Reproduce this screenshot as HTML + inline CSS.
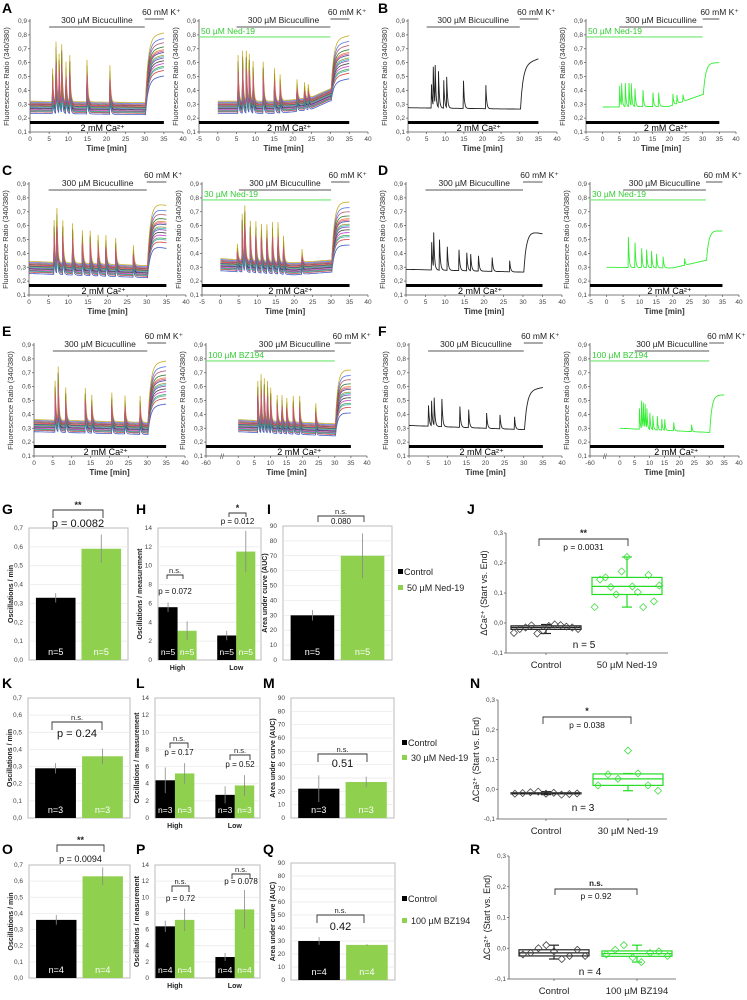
<!DOCTYPE html>
<html><head><meta charset="utf-8"><style>
html,body{margin:0;padding:0;background:#fff;}
svg{display:block;font-family:"Liberation Sans",Arial,sans-serif;}
</style></head><body>
<svg id="fig" width="747" height="1000" viewBox="0 0 747 1000" xmlns="http://www.w3.org/2000/svg"></svg>
<script>
// ---------- DATA ----------
const multiOffsets=[-0.045,-0.035,-0.025,-0.02,-0.012,-0.006,0,0.004,0.009,0.015,0.021,0.028,0.035,0.042,-0.03,0.018];
const multiScales=[0.5,0.85,0.65,1.0,0.6,0.75,0.9,0.45,0.8,0.7,0.88,0.62,0.55,0.95,0.75,0.68];
const multiPlateau=[-0.14,-0.1,-0.07,-0.05,-0.03,-0.01,0,0.01,0.03,0.05,0.07,0.1,0.13,0.17,-0.08,0.04];
const traceColors=["#1f3fbf","#d02020","#20a040","#c020c0","#202020","#7030a0","#20b0c0","#8a8a20","#203080","#e07020","#106010","#a04060","#4060e0","#c0a000","#40a0a0","#e04080"];

const aLeftSpikeT=[5.8,6.7,7.5,8.2,9.3,10.3,14.8,20.8];
const aLeftSpikeH=[0.25,0.45,0.35,0.42,0.3,0.35,0.32,0.28];
const aRightSpikeT=[5.3,6.5,7.5,8.3,9.3,12,15,16.5,21,23,24];
const aRightSpikeH=[0.35,0.38,0.38,0.35,0.3,0.3,0.25,0.2,0.15,0.12,0.1];
const bLeftSpikeT=[6.2,6.7,7.2,8.1,9.5,10.3,14.8,20.8];
const bLeftSpikeH=[0.17,0.28,0.28,0.26,0.2,0.22,0.2,0.17];
const bRightSpikeT=[5,5.6,6.7,7.8,8.5,9.6,12,15,16.7,21,22.2,24];
const bRightSpikeH=[0.15,0.16,0.17,0.17,0.16,0.13,0.12,0.1,0.1,0.08,0.06,0.05];
const cLeftSpikeT=[6.3,7,8.5,11,13.5,15.5,17.5,19.5,22,26.5];
const cLeftSpikeH=[0.32,0.4,0.32,0.3,0.25,0.25,0.22,0.22,0.2,0.15];
const cRightSpikeT=[4.5,5.8,6.5,8,9.5,11,12.5,14,15.5,17,22];
const cRightSpikeH=[0.12,0.35,0.4,0.3,0.3,0.28,0.28,0.3,0.3,0.2,0.1];
const dLeftSpikeT=[6.5,7,8.5,10.5,13.5,15.5,16.5,18.5,22,26.5];
const dLeftSpikeH=[0.2,0.25,0.22,0.17,0.15,0.13,0.12,0.11,0.1,0.08];
const dRightSpikeT=[6.5,8.5,10.5,12,13.5,15,17,23.5];
const dRightSpikeH=[0.22,0.18,0.14,0.13,0.12,0.1,0.08,0.05];
const eLeftSpikeT=[5.5,6.3,8.3,13.5,15.2,20.5,24,28];
const eLeftSpikeH=[0.3,0.4,0.25,0.25,0.2,0.22,0.2,0.2];
const eRightSpikeT=[6,7,8,9,10,12,13.5,15,17,19,24];
const eRightSpikeH=[0.3,0.35,0.32,0.3,0.25,0.2,0.2,0.18,0.2,0.2,0.15];
const fLeftSpikeT=[5,5.8,6.5,8.5,13.2,15.5,20.2,23.7,27.5];
const fLeftSpikeH=[0.15,0.18,0.2,0.2,0.15,0.13,0.11,0.1,0.09];
const fRightSpikeT=[6.5,7.2,7.8,8.4,9,10,11,12.5,14,15,18,24];
const fRightSpikeH=[0.15,0.2,0.18,0.17,0.14,0.12,0.1,0.1,0.08,0.08,0.06,0.05];

// bar chart data
const barCats=["Control","Ned"];
const gVals=[0.33,0.59], gErr=[0.025,0.075];
const hHigh=[5.6,3.1], hHighErr=[0.5,1.0], hLow=[2.6,11.5], hLowErr=[0.5,2.2];
const iVals=[30,70], iErr=[3.5,15];
const kVals=[0.29,0.36], kErr=[0.03,0.045];
const lHigh=[4.4,5.2], lHighErr=[1.5,1.2], lLow=[2.7,3.8], lLowErr=[1.0,1.2];
const mVals=[22,27], mErr=[10,4];
const oVals=[0.36,0.63], oErr=[0.03,0.055];
const pHigh=[6.4,7.2], pHighErr=[0.7,1.4], pLow=[2.6,8.5], pLowErr=[0.5,2.4];
const qVals=[30,27], qErr=[3,0.6];

// boxplot data
const jCtrl=[-0.033,-0.02,-0.015,-0.008,-0.035,-0.025,-0.01,-0.005,-0.007,-0.012,-0.015,-0.02];
const jNed=[0.053,0.145,0.152,0.12,0.095,0.172,0.22,0.122,0.103,0.053,0.16,0.072,0.125];
const nCtrl=[-0.015,-0.013,-0.01,-0.008,-0.015,-0.012,-0.018,-0.016,-0.014];
const nNed=[0.013,0.05,0.035,0.13,0.053,0.013,-0.005];
const rCtrl=[-0.02,-0.015,0.0,0.01,-0.01,-0.035,-0.025,-0.005,-0.025];
const rBz=[-0.02,-0.005,0.01,-0.03,-0.045,-0.015,-0.01,-0.025];

// ---------- HELPERS ----------
const NS="http://www.w3.org/2000/svg";
const svg=document.getElementById('fig');
function mk(tag,attrs,name,parent){
  const e=document.createElementNS(NS,tag);
  for(const k in attrs) e.setAttribute(k,attrs[k]);
  
  
  (parent||svg).appendChild(e);
  return e;
}
function txt(x,y,s,size,extra,name,parent){
  const a=Object.assign({x:x,y:y,'font-size':size,fill:'#222'},extra||{});
  const t=mk('text',a,name,parent);
  t.textContent=s;
  return t;
}
function line(x1,y1,x2,y2,stroke,w,name,parent){
  return mk('line',{x1:x1,y1:y1,x2:x2,y2:y2,stroke:stroke,'stroke-width':w},name,parent);
}
function fmt(v,d){return v.toFixed(d).replace('.',',');}
function interp(ts,vs,t){
  if(t<=ts[0])return vs[0];
  for(let i=1;i<ts.length;i++){ if(t<=ts[i]){const f=(t-ts[i-1])/(ts[i]-ts[i-1]);return vs[i-1]+f*(vs[i]-vs[i-1]);} }
  return vs[vs.length-1];
}
function letter(x,y,s){ txt(x,y,s,14,{'font-weight':'bold',fill:'#000'},'panel-label-'+s.toLowerCase()); }

// ---------- TRACE PANELS ----------
function traceVal(p,t,off,sc,pl){
  const b=interp(p.baseT,p.baseV,Math.min(t,30))+off;
  if(t<30.2){
    let v=b;
    for(let i=0;i<p.st.length;i++){
      const d=t-p.st[i];
      if(d>=0 && d<0.1) v+=p.sh[i]*sc*(d/0.1);
      else if(d>=0.1) v+=p.sh[i]*sc*Math.exp(-(d-0.1)/0.22);
    }
    return v;
  }
  const P=p.plateau+pl;
  return b+(P-b)*(1-Math.exp(-(t-30.2)/0.7))+p.plSlope*(t-30.2);
}
function drawTrace(p){
  const g=mk('g',{},p.name);
  const yT=p.rowY+21, yB=p.rowY+132;
  const xm=t=>p.x0+(t-p.xr[0])/(p.xr[1]-p.xr[0])*(p.x1-p.x0);
  const ym=v=>yT+(0.9-v)/0.8*(yB-yT);
  line(p.x0,yT-2,p.x0,yB,'#555',0.8,'y-axis',g);
  line(p.x0,yB,p.x1,yB,'#555',0.8,'x-axis',g);
  for(let k=1;k<=9;k++){
    const v=k/10;
    line(p.x0-2,ym(v),p.x0,ym(v),'#555',0.7,'y-tick',g);
    txt(p.x0-3,ym(v)+2,fmt(v,1),6.5,{'text-anchor':'end',fill:'#444'},'y-tick-label',g);
  }
  p.xt.forEach((t,i)=>{
    line(xm(t),yB,xm(t),yB+2,'#555',0.7,'x-tick',g);
    txt(xm(t),yB+9,p.xl[i],6.5,{'text-anchor':'middle',fill:'#444'},'x-tick-label',g);
  });
  if(p.brk){ txt(xm(-5),yB+3,'//',7,{'text-anchor':'middle',fill:'#444'},'axis-break',g); }
  txt((p.x0+p.x1)/2,p.rowY+151,'Time [min]',8,{'text-anchor':'middle',fill:'#333','font-weight':'bold'},'x-axis-title',g);
  const yc=(yT+yB)/2;
  txt(p.x0-21,yc,'Fluorescence Ratio (340/380)',7.5,{'text-anchor':'middle',fill:'#333',transform:'rotate(-90 '+(p.x0-21)+' '+yc+')'},'y-axis-title',g);
  const t0=0,t1=35,dt=0.05;
  const n=p.kind==='multi'?multiOffsets.length:1;
  for(let k=0;k<n;k++){
    const off=p.kind==='multi'?multiOffsets[k]:0;
    const sc=p.kind==='multi'?multiScales[k]:1;
    const pl=p.kind==='multi'?multiPlateau[k]:0;
    let d='';
    for(let t=t0;t<=t1+1e-9;t+=dt){
      let v=traceVal(p,t,off,sc,pl); v=Math.max(0.12,Math.min(0.86,v));
      d+=(d?'L':'M')+xm(t).toFixed(1)+' '+ym(v).toFixed(1);
    }
    const col=p.kind==='multi'?traceColors[k]:(p.kind==='green'?'#33ee33':'#222');
    mk('path',{d:d,fill:'none',stroke:col,'stroke-width':p.kind==='multi'?0.8:0.9,'stroke-opacity':p.kind==='multi'?0.85:1},'trace',g);
  }
  line(xm(5),p.rowY+27,xm(30),p.rowY+27,'#777',1.2,'bicuculline-bar',g);
  txt(xm(17.5),p.rowY+23,'300 µM Bicuculline',8.5,{'text-anchor':'middle',fill:'#222'},'bicuculline-label',g);
  line(xm(30),p.rowY+19,xm(35),p.rowY+19,'#777',1.2,'k-bar',g);
  txt(xm(29.3),p.rowY+15,'60 mM K⁺',8.5,{fill:'#222'},'k-label',g);
  if(p.drug){
    line(p.x0,ym(0.785),xm(30),ym(0.785),'#6ee66e',1.2,'drug-bar',g);
    txt(p.x0+2,ym(0.785)-3,p.drug,8.5,{fill:'#33cc33'},'drug-label',g);
  }
  mk('rect',{x:p.x0,y:p.rowY+121,width:xm(35)-p.x0,height:3,fill:'#000'},'calcium-bar',g);
  txt(xm(19),p.rowY+131,'2 mM Ca²⁺',9,{'text-anchor':'middle',fill:'#000'},'calcium-label',g);
}
const xt40=[0,5,10,15,20,25,30,35,40], xl40=xt40.map(String);
const xt45=[-5,0,5,10,15,20,25,30,35,40], xl45=xt45.map(String);
const xtB=[-10,0,5,10,15,20,25,30,35,40], xlB=["-60","0","5","10","15","20","25","30","35","40"];
const panels=[
 {name:'panel-a-control',rowY:0,x0:30,x1:183,xr:[0,40],xt:xt40,xl:xl40,kind:'multi',st:aLeftSpikeT,sh:aLeftSpikeH,baseT:[0,30],baseV:[0.28,0.27],plateau:0.62,plSlope:0.005},
 {name:'panel-a-ned19',rowY:0,x0:199,x1:368,xr:[-5,40],xt:xt45,xl:xl45,kind:'multi',drug:'50 µM Ned-19',st:aRightSpikeT,sh:aRightSpikeH,baseT:[0,15,20,25,30],baseV:[0.28,0.28,0.29,0.31,0.37],plateau:0.6,plSlope:0.005},
 {name:'panel-b-control',rowY:0,x0:408,x1:557,xr:[0,40],xt:xt40,xl:xl40,kind:'black',st:bLeftSpikeT,sh:bLeftSpikeH,baseT:[0,30],baseV:[0.275,0.265],plateau:0.58,plSlope:0.01},
 {name:'panel-b-ned19',rowY:0,x0:586,x1:736,xr:[-5,40],xt:xt45,xl:xl45,kind:'green',drug:'50 µM Ned-19',st:bRightSpikeT,sh:bRightSpikeH,baseT:[0,20,30],baseV:[0.28,0.285,0.37],plateau:0.6,plSlope:0},
 {name:'panel-c-control',rowY:163,x0:29,x1:186,xr:[0,40],xt:xt40,xl:xl40,kind:'multi',st:cLeftSpikeT,sh:cLeftSpikeH,baseT:[0,30],baseV:[0.3,0.27],plateau:0.6,plSlope:-0.005},
 {name:'panel-c-ned19',rowY:163,x0:202,x1:368,xr:[-5,40],xt:xt45,xl:xl45,kind:'multi',drug:'30 µM Ned-19',st:cRightSpikeT,sh:cRightSpikeH,baseT:[0,20,30],baseV:[0.32,0.29,0.31],plateau:0.6,plSlope:0},
 {name:'panel-d-control',rowY:163,x0:406,x1:562,xr:[0,40],xt:xt40,xl:xl40,kind:'black',st:dLeftSpikeT,sh:dLeftSpikeH,baseT:[0,30],baseV:[0.285,0.265],plateau:0.57,plSlope:-0.006},
 {name:'panel-d-ned19',rowY:163,x0:590,x1:739,xr:[-5,40],xt:xt45,xl:xl45,kind:'green',drug:'30 µM Ned-19',st:dRightSpikeT,sh:dRightSpikeH,baseT:[0,20,30],baseV:[0.3,0.295,0.35],plateau:0.57,plSlope:-0.002},
 {name:'panel-e-control',rowY:324,x0:34,x1:185,xr:[0,40],xt:xt40,xl:xl40,kind:'multi',st:eLeftSpikeT,sh:eLeftSpikeH,baseT:[0,30],baseV:[0.32,0.3],plateau:0.6,plSlope:0.003},
 {name:'panel-e-bz194',rowY:324,x0:206,x1:367,xr:[-10,40],xt:xtB,xl:xlB,brk:true,kind:'multi',drug:'100 µM BZ194',st:eRightSpikeT,sh:eRightSpikeH,baseT:[0,30],baseV:[0.32,0.29],plateau:0.55,plSlope:0},
 {name:'panel-f-control',rowY:324,x0:409,x1:562,xr:[0,40],xt:xt40,xl:xl40,kind:'black',st:fLeftSpikeT,sh:fLeftSpikeH,baseT:[0,30],baseV:[0.32,0.29],plateau:0.57,plSlope:0.005},
 {name:'panel-f-bz194',rowY:324,x0:590,x1:739,xr:[-10,40],xt:xtB,xl:xlB,brk:true,kind:'green',drug:'100 µM BZ194',st:fRightSpikeT,sh:fRightSpikeH,baseT:[0,30],baseV:[0.3,0.27],plateau:0.54,plSlope:0}
];
panels.forEach(drawTrace);
letter(2,13,'A');letter(378,13,'B');letter(2,175,'C');letter(378,175,'D');letter(2,336,'E');letter(378,336,'F');

// ---------- BAR PANELS ----------
function drawBar(p){
  const g=mk('g',{},p.name);
  const w=p.x1-p.x0;
  const ym=v=>p.yB-(v/p.ymax)*(p.yB-p.yT);
  mk('rect',{x:p.x0,y:p.yT,width:w,height:p.yB-p.yT,fill:'#fff',stroke:'#bbb','stroke-width':1},'plot-frame',g);
  const nt=Math.round(p.ymax/p.step);
  for(let k=0;k<=nt;k++){
    const v=k*p.step;
    if(k>0&&k<nt) line(p.x0,ym(v),p.x1,ym(v),'#e8e8e8',0.7,'gridline',g);
    txt(p.x0-6,ym(v)+2,p.dec?fmt(v,p.dec):String(v),6.5,{'text-anchor':'end',fill:'#444'},'y-tick-label',g);
  }
  const yc=(p.yT+p.yB)/2;
  txt(p.x0-16,yc,p.ytitle,7,{'text-anchor':'middle','font-weight':'bold',fill:'#222',transform:'rotate(-90 '+(p.x0-16)+' '+yc+')'},'y-axis-title',g);
  const bars=[];
  if(p.grouped){
    const bw=0.185*w;
    [[p.high,p.highErr,0.19,'High'],[p.low,p.lowErr,0.76,'Low']].forEach(gr=>{
      const c=p.x0+gr[2]*w;
      bars.push([c-bw,bw,gr[0][0],gr[1][0],'#000']);
      bars.push([c,bw,gr[0][1],gr[1][1],'#8fd14f']);
      txt(c,p.yB+10,gr[3],7,{'text-anchor':'middle','font-weight':'bold',fill:'#222'},'group-label',g);
    });
  } else {
    const bw=0.4*w;
    [0.27,0.73].forEach((f,i)=>bars.push([p.x0+f*w-bw/2,bw,p.vals[i],p.err[i],i?'#8fd14f':'#000']));
  }
  bars.forEach(b=>{
    mk('rect',{x:b[0],y:ym(b[2]),width:b[1],height:p.yB-ym(b[2]),fill:b[4]},'bar',g);
    const cx=b[0]+b[1]/2;
    line(cx,ym(b[2]+b[3]),cx,ym(Math.max(0,b[2]-b[3])),'#888',0.8,'error-bar',g);
    txt(cx,p.yB-5,p.nlab,p.grouped?8.5:9,{'text-anchor':'middle',fill:'#fff'},'n-label',g);
  });
  p.br.forEach(b=>{
    mk('path',{d:'M'+b[0]+' '+b[3]+'V'+b[2]+'H'+b[1]+'V'+b[3],fill:'none',stroke:'#333','stroke-width':0.9},'significance-bracket',g);
    txt((b[0]+b[1])/2,b[2]-2,b[4],b[4]==='n.s.'?7.5:9,{'text-anchor':'middle',fill:'#222','font-weight':b[4]==='n.s.'?'normal':'bold'},'significance-mark',g);
    txt((b[0]+b[1])/2,b[5],b[6],b[7],{'text-anchor':'middle',fill:'#111'},'p-value',g);
  });
}
function legend(x,y1,y2,label2){
  mk('rect',{x:x,y:y1-6,width:5,height:5,fill:'#000'},'legend-swatch-control');
  txt(x+6,y1,'Control',9,{fill:'#222'},'legend-entry-control');
  mk('rect',{x:x,y:y2-6,width:5,height:5,fill:'#8fd14f'},'legend-swatch-treatment');
  txt(x+9,y2,label2,9,{fill:'#222'},'legend-entry-treatment');
}
drawBar({name:'panel-g',x0:29,x1:128,yT:528,yB:660,ymax:0.7,step:0.1,dec:1,ytitle:'Oscillations / min',vals:gVals,err:gErr,nlab:'n=5',br:[[53,103,510,518,'**',527,'p = 0.0082',11]]});
drawBar({name:'panel-h',x0:158,x1:261,yT:528,yB:660,ymax:14,step:2,ytitle:'Oscillations / measurement',grouped:true,high:hHigh,highErr:hHighErr,low:hLow,lowErr:hLowErr,nlab:'n=5',br:[[167,183,575,579,'n.s.',594,'p = 0.072',8],[229,246,513,517,'*',524,'p = 0.012',8]]});
drawBar({name:'panel-i',x0:283,x1:392,yT:526,yB:660,ymax:90,step:10,ytitle:'Area under curve (AUC)',vals:iVals,err:iErr,nlab:'n=5',br:[[318,364,516,522,'n.s.',524,'0.080',8]]});
legend(398,575,591,'50 µM Ned-19');
drawBar({name:'panel-k',x0:28,x1:130,yT:698,yB:818,ymax:0.7,step:0.1,dec:1,ytitle:'Oscillations / min',vals:kVals,err:kErr,nlab:'n=3',br:[[52,102,722,730,'n.s.',737,'p = 0.24',11]]});
drawBar({name:'panel-l',x0:155,x1:260,yT:698,yB:818,ymax:14,step:2,ytitle:'Oscillations / measurement',grouped:true,high:lHigh,highErr:lHighErr,low:lLow,lowErr:lLowErr,nlab:'n=3',br:[[170,188,743,748,'n.s.',755,'p = 0.17',8],[230,250,755,760,'n.s.',767,'p = 0.52',8]]});
drawBar({name:'panel-m',x0:291,x1:394,yT:698,yB:818,ymax:90,step:10,ytitle:'Area under curve (AUC)',vals:mVals,err:mErr,nlab:'n=3',br:[[318,367,754,762,'n.s.',767,'0.51',11]]});
legend(402,746,761,'30 µM Ned-19');
drawBar({name:'panel-o',x0:29,x1:130,yT:865,yB:978,ymax:0.7,step:0.1,dec:1,ytitle:'Oscillations / min',vals:oVals,err:oErr,nlab:'n=4',br:[[57,104,845,852,'**',862,'p = 0.0094',9]]});
drawBar({name:'panel-p',x0:155,x1:260,yT:865,yB:978,ymax:14,step:2,ytitle:'Oscillations / measurement',grouped:true,high:pHigh,highErr:pHighErr,low:pLow,lowErr:pLowErr,nlab:'n=4',br:[[172,189,886,892,'n.s.',901,'p = 0.72',8],[232,250,874,879,'n.s.',884,'p = 0.078',8]]});
drawBar({name:'panel-q',x0:291,x1:395,yT:863,yB:980,ymax:90,step:10,ytitle:'Area under curve (AUC)',vals:qVals,err:qErr,nlab:'n=4',br:[[317,364,915,923,'n.s.',930,'0.42',11]]});
legend(402,902,924,'100 µM BZ194');

// ---------- BOX PANELS ----------
function quant(a,q){const s=[...a].sort((x,y)=>x-y);const i=(s.length-1)*q;const lo=Math.floor(i),hi=Math.ceil(i);return s[lo]+(s[hi]-s[lo])*(i-lo);}
function drawBox(p){
  const g=mk('g',{},p.name);
  const ym=v=>p.yB-(v+0.1)/0.4*(p.yB-p.yT);
  line(p.x0,p.yT,p.x0,p.yB,'#555',0.8,'y-axis',g);
  line(p.x0,p.yB,p.x1,p.yB,'#555',0.8,'x-axis',g);
  [-0.1,0,0.1,0.2,0.3].forEach(v=>{
    line(p.x0-2,ym(v),p.x0,ym(v),'#555',0.7,'y-tick',g);
    txt(p.x0-3,ym(v)+2,fmt(v,1),6.5,{'text-anchor':'end',fill:'#444'},'y-tick-label',g);
  });
  const yc=(p.yT+p.yB)/2, tx=p.x0-19;
  txt(tx,yc,'ΔCa²⁺ (Start vs. End)',9,{'text-anchor':'middle',fill:'#222',transform:'rotate(-90 '+tx+' '+yc+')'},'y-axis-title',g);
  [[p.c1,p.d1,'#222',p.l1],[p.c2,p.d2,'#22dd22',p.l2]].forEach(s=>{
    const c=s[0],d=s[1],col=s[2],bw=70;
    line(c,p.yB,c,p.yB+2,'#555',0.7,'x-tick',g);
    txt(c,p.yB+15,s[3],9.5,{'text-anchor':'middle',fill:'#222'},'x-tick-label',g);
    const q1=quant(d,0.25),q3=quant(d,0.75),md=quant(d,0.5),iqr=q3-q1;
    const inl=d.filter(v=>v>=q1-1.5*iqr-1e-9&&v<=q3+1.5*iqr+1e-9);
    const lo=Math.min(...inl),hi=Math.max(...inl);
    mk('rect',{x:c-bw/2,y:ym(q3),width:bw,height:Math.max(1,ym(q1)-ym(q3)),fill:'none',stroke:col,'stroke-width':1.2},'box',g);
    line(c-bw/2,ym(md),c+bw/2,ym(md),col,1.2,'median',g);
    line(c,ym(hi),c,ym(q3),col,1.2,'whisker',g);
    line(c,ym(q1),c,ym(lo),col,1.2,'whisker',g);
    line(c-5,ym(hi),c+5,ym(hi),col,1.2,'whisker-cap',g);
    line(c-5,ym(lo),c+5,ym(lo),col,1.2,'whisker-cap',g);
    d.forEach((v,i)=>{
      const x=c-bw/2+(i+0.5)*bw/d.length, y=ym(v);
      mk('path',{d:'M'+x+' '+(y-3.5)+'L'+(x+3.5)+' '+y+'L'+x+' '+(y+3.5)+'L'+(x-3.5)+' '+y+'Z',fill:'none',stroke:col==='#222'?'#444':'#44dd44','stroke-width':0.8},'data-point',g);
    });
  });
  const b=p.br;
  mk('path',{d:'M'+b[0]+' '+b[3]+'V'+b[2]+'H'+b[1]+'V'+b[3],fill:'none',stroke:'#333','stroke-width':0.9},'significance-bracket',g);
  txt((b[0]+b[1])/2,b[2]-3,b[4],b[4]==='n.s.'?8:9,{'text-anchor':'middle',fill:'#222','font-weight':'bold'},'significance-mark',g);
  txt((b[0]+b[1])/2,b[5],b[6],8.5,{'text-anchor':'middle',fill:'#111'},'p-value',g);
  txt(p.nx,p.ny,p.nlab,10,{'text-anchor':'middle',fill:'#111'},'n-label',g);
}
drawBox({name:'panel-j',x0:506,x1:668,yT:533,yB:653,c1:546,c2:627,d1:jCtrl,d2:jNed,l1:'Control',l2:'50 µM Ned-19',br:[539,628,539,546,'**',550,'p = 0.0031'],nlab:'n = 5',nx:584,ny:648});
drawBox({name:'panel-n',x0:498,x1:667,yT:700,yB:819,c1:546,c2:628,d1:nCtrl,d2:nNed,l1:'Control',l2:'30 µM Ned-19',br:[543,631,717,724,'*',728,'p = 0.038'],nlab:'n = 3',nx:583,ny:811});
drawBox({name:'panel-r',x0:509,x1:676,yT:856,yB:979,c1:554,c2:637,d1:rCtrl,d2:rBz,l1:'Control',l2:'100 µM BZ194',br:[555,637,889,895,'n.s.',899,'p = 0.92'],nlab:'n = 4',nx:590,ny:975});

letter(2,514,'G');letter(136,514,'H');letter(267,514,'I');letter(467,514,'J');
letter(2,688,'K');letter(136,688,'L');letter(263,688,'M');letter(470,688,'N');
letter(2,854,'O');letter(136,854,'P');letter(263,854,'Q');letter(470,854,'R');
</script>
</body></html>
